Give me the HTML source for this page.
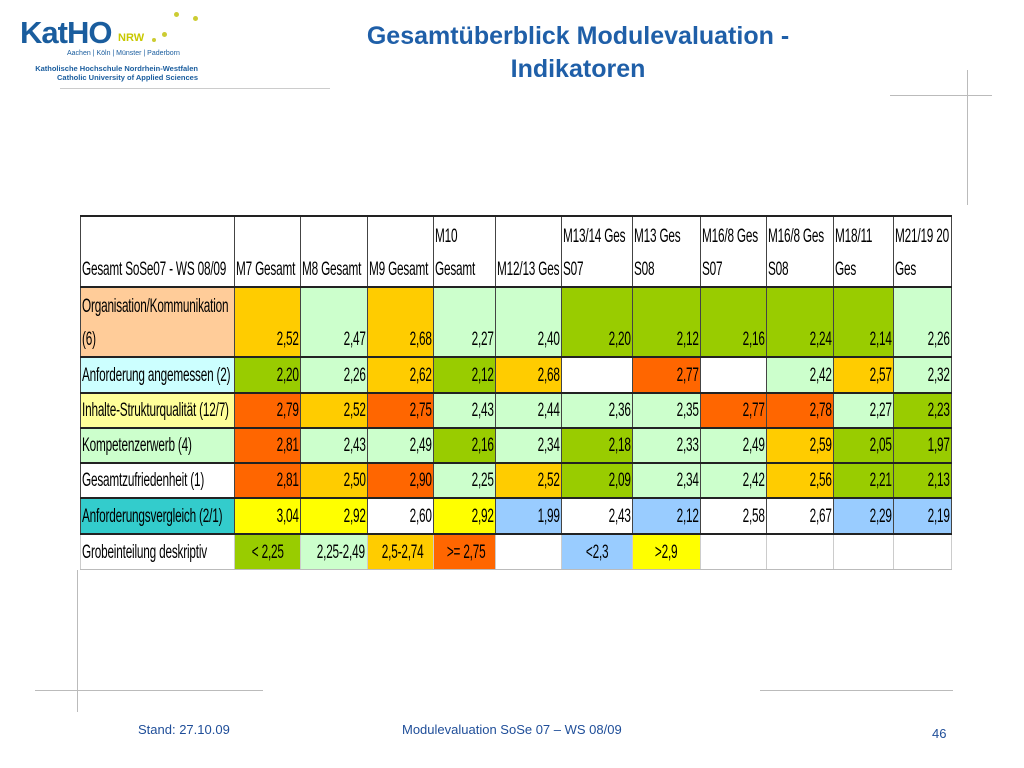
<!DOCTYPE html>
<html><head><meta charset="utf-8"><style>
body{margin:0;width:1024px;height:768px;background:#fff;position:relative;overflow:hidden;font-family:"Liberation Sans",sans-serif}
.abs{position:absolute}
table{position:absolute;left:80px;top:215px;width:871px;border-collapse:collapse;table-layout:fixed;font-family:"Liberation Sans",sans-serif;font-size:19px;color:#000}
td{border:1px solid #444;border-top:2px solid #222;border-bottom:2px solid #222;padding:0 1px;overflow:hidden;white-space:nowrap;text-align:right;vertical-align:bottom;line-height:33px}
td span{display:inline-block;transform:scaleX(.62);transform-origin:right bottom;letter-spacing:-0.3px}
td.l span,tr.h td span{transform-origin:left bottom}
tr.k td span{transform-origin:center bottom}
td.l{text-align:left}
tr.h td{text-align:left;background:#fff}
tr.k td{border-bottom:1px solid #bbb;border-left:1px solid #ccc;border-right:1px solid #ccc;text-align:center}
tr.k td.l{text-align:left}
tr.k td.l span{transform-origin:left bottom}
.LG{background:#ccffcc}.G{background:#99cc00}.O{background:#ffcc00}.R{background:#ff6600}.Y{background:#ffff00}.B{background:#99ccff}.W{background:#fff}
</style></head><body>
<div class="abs" style="left:20px;top:17px;font-size:31px;line-height:32px;font-weight:bold;color:#1a5d9e;letter-spacing:-1px">KatHO</div>
<div class="abs" style="left:118px;top:32px;font-size:11px;font-weight:bold;color:#c8c800">NRW</div>
<div class="abs" style="left:174px;top:12px;width:5px;height:5px;border-radius:50%;background:#cccc33"></div>
<div class="abs" style="left:193px;top:16px;width:5px;height:5px;border-radius:50%;background:#cccc33"></div>
<div class="abs" style="left:162px;top:32px;width:5px;height:5px;border-radius:50%;background:#cccc33"></div>
<div class="abs" style="left:152px;top:38px;width:4px;height:4px;border-radius:50%;background:#cccc33"></div>
<div class="abs" style="left:67px;top:50px;font-size:7px;color:#1a5d9e">Aachen | Köln | Münster | Paderborn</div>
<div class="abs" style="left:20px;top:64px;font-size:7.5px;font-weight:bold;color:#1a5d9e;line-height:9px;text-align:right;width:178px">Katholische Hochschule Nordrhein-Westfalen<br>Catholic University of Applied Sciences</div>
<div class="abs" style="left:60px;top:88px;width:270px;height:1px;background:#ccc"></div>
<div class="abs" style="left:300px;top:20px;width:556px;text-align:center;font-size:25px;font-weight:bold;color:#1f5fa8;line-height:33px">Gesamtüberblick Modulevaluation -<br>Indikatoren</div>
<div class="abs" style="left:890px;top:95px;width:102px;height:1px;background:#bbb"></div>
<div class="abs" style="left:967px;top:70px;width:1px;height:135px;background:#bbb"></div>
<div class="abs" style="left:35px;top:690px;width:228px;height:1px;background:#bbb"></div>
<div class="abs" style="left:760px;top:690px;width:193px;height:1px;background:#bbb"></div>
<div class="abs" style="left:77px;top:570px;width:1px;height:142px;background:#bbb"></div>
<table>
<colgroup><col style="width:154px"><col style="width:66px"><col style="width:67px"><col style="width:66px"><col style="width:62px"><col style="width:66px"><col style="width:71px"><col style="width:68px"><col style="width:66px"><col style="width:67px"><col style="width:60px"><col style="width:58px"></colgroup>
<tr class="h" style="height:71px"><td><span>Gesamt SoSe07 - WS 08/09</span></td><td><span>M7 Gesamt</span></td><td><span>M8 Gesamt</span></td><td><span>M9 Gesamt</span></td><td><span>M10<br>Gesamt</span></td><td><span>M12/13 Ges</span></td><td><span>M13/14 Ges<br>S07</span></td><td><span>M13 Ges<br>S08</span></td><td><span>M16/8 Ges<br>S07</span></td><td><span>M16/8 Ges<br>S08</span></td><td><span>M18/11<br>Ges</span></td><td><span>M21/19 20<br>Ges</span></td></tr>
<tr style="height:70px"><td class="l" style="background:#ffcc99"><span>Organisation/Kommunikation<br>(6)</span></td><td class="O"><span>2,52</span></td><td class="LG"><span>2,47</span></td><td class="O"><span>2,68</span></td><td class="LG"><span>2,27</span></td><td class="LG"><span>2,40</span></td><td class="G"><span>2,20</span></td><td class="G"><span>2,12</span></td><td class="G"><span>2,16</span></td><td class="G"><span>2,24</span></td><td class="G"><span>2,14</span></td><td class="LG"><span>2,26</span></td></tr>
<tr style="height:36px"><td class="l" style="background:#ccffff"><span>Anforderung angemessen (2)</span></td><td class="G"><span>2,20</span></td><td class="LG"><span>2,26</span></td><td class="O"><span>2,62</span></td><td class="G"><span>2,12</span></td><td class="O"><span>2,68</span></td><td class="W"></td><td class="R"><span>2,77</span></td><td class="W"></td><td class="LG"><span>2,42</span></td><td class="O"><span>2,57</span></td><td class="LG"><span>2,32</span></td></tr>
<tr style="height:35px"><td class="l" style="background:#ffff99"><span>Inhalte-Strukturqualität (12/7)</span></td><td class="R"><span>2,79</span></td><td class="O"><span>2,52</span></td><td class="R"><span>2,75</span></td><td class="LG"><span>2,43</span></td><td class="LG"><span>2,44</span></td><td class="LG"><span>2,36</span></td><td class="LG"><span>2,35</span></td><td class="R"><span>2,77</span></td><td class="R"><span>2,78</span></td><td class="LG"><span>2,27</span></td><td class="G"><span>2,23</span></td></tr>
<tr style="height:35px"><td class="l" style="background:#ccffcc"><span>Kompetenzerwerb (4)</span></td><td class="R"><span>2,81</span></td><td class="LG"><span>2,43</span></td><td class="LG"><span>2,49</span></td><td class="G"><span>2,16</span></td><td class="LG"><span>2,34</span></td><td class="G"><span>2,18</span></td><td class="LG"><span>2,33</span></td><td class="LG"><span>2,49</span></td><td class="O"><span>2,59</span></td><td class="G"><span>2,05</span></td><td class="G"><span>1,97</span></td></tr>
<tr style="height:35px"><td class="l W"><span>Gesamtzufriedenheit (1)</span></td><td class="R"><span>2,81</span></td><td class="O"><span>2,50</span></td><td class="R"><span>2,90</span></td><td class="LG"><span>2,25</span></td><td class="O"><span>2,52</span></td><td class="G"><span>2,09</span></td><td class="LG"><span>2,34</span></td><td class="LG"><span>2,42</span></td><td class="O"><span>2,56</span></td><td class="G"><span>2,21</span></td><td class="G"><span>2,13</span></td></tr>
<tr style="height:36px"><td class="l" style="background:#33cccc"><span>Anforderungsvergleich (2/1)</span></td><td class="Y"><span>3,04</span></td><td class="Y"><span>2,92</span></td><td class="W"><span>2,60</span></td><td class="Y"><span>2,92</span></td><td class="B"><span>1,99</span></td><td class="W"><span>2,43</span></td><td class="B"><span>2,12</span></td><td class="W"><span>2,58</span></td><td class="W"><span>2,67</span></td><td class="B"><span>2,29</span></td><td class="B"><span>2,19</span></td></tr>
<tr class="k" style="height:35px"><td class="l W"><span>Grobeinteilung deskriptiv</span></td><td class="G"><span>&lt; 2,25</span></td><td class="LG"><span>2,25-2,49</span></td><td class="O"><span>2,5-2,74</span></td><td class="R"><span>&gt;= 2,75</span></td><td class="W"></td><td class="B"><span>&lt;2,3</span></td><td class="Y"><span>&gt;2,9</span></td><td class="W"></td><td class="W"></td><td class="W"></td><td class="W"></td></tr>
</table>
<div class="abs" style="left:138px;top:722px;font-size:13px;color:#1f4e99">Stand: 27.10.09</div>
<div class="abs" style="left:402px;top:722px;font-size:13px;color:#1f4e99">Modulevaluation SoSe 07 – WS 08/09</div>
<div class="abs" style="left:932px;top:726px;font-size:13px;color:#1f4e99">46</div>
</body></html>
